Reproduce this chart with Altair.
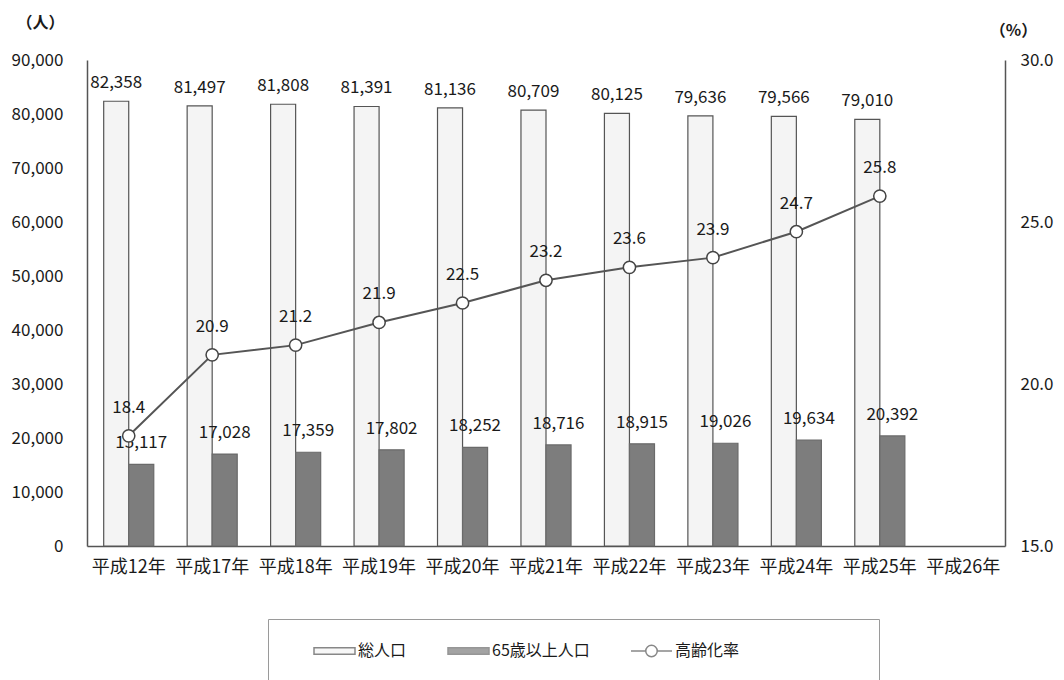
import altair as alt
import pandas as pd

categories = ["平成12年", "平成17年", "平成18年", "平成19年", "平成20年", "平成21年",
              "平成22年", "平成23年", "平成24年", "平成25年", "平成26年"]
data_years = categories[:10]
total_pop = [82358, 81497, 81808, 81391, 81136, 80709, 80125, 79636, 79566, 79010]
elderly_pop = [15117, 17028, 17359, 17802, 18252, 18716, 18915, 19026, 19634, 20392]
aging_rate = [18.4, 20.9, 21.2, 21.9, 22.5, 23.2, 23.6, 23.9, 24.7, 25.8]
series_names = ["総人口", "65歳以上人口", "高齢化率"]

FONT = "Noto Sans CJK JP"
TXT = "#1a1a1a"

bar_rows = []
for y, t, e in zip(data_years, total_pop, elderly_pop):
    bar_rows.append({"year": y, "series": series_names[0], "value": t})
    bar_rows.append({"year": y, "series": series_names[1], "value": e})
bars_df = pd.DataFrame(bar_rows)
line_df = pd.DataFrame({"year": data_years, "rate": aging_rate})
legend_df = pd.DataFrame({"series": series_names})

rect_path = "M-1,-0.16H1V0.16H-1Z"
line_circle_path = ("M-1,0H-0.28M0.28,0H1M0.28,0A0.28,0.28,0,1,1,-0.28,0"
                    "A0.28,0.28,0,1,1,0.28,0Z")

fill_scale = alt.Scale(domain=series_names, range=["#f4f4f4", "#7d7d7d", "#ffffff"])
stroke_scale = alt.Scale(domain=series_names, range=["#555555", "#6a6a6a", "#555555"])
shape_scale = alt.Scale(domain=series_names, range=[rect_path, rect_path, line_circle_path])

legend = alt.Legend(
    title="\u3000", titleOrient="right", titlePadding=130, titleFontSize=16,
    orient="none", legendX=181, legendY=559, direction="horizontal",
    columns=3, columnPadding=5, padding=10, symbolOffset=35, clipHeight=44,
    strokeColor="#9a9a9a", fillColor="#ffffff",
    labelFont=FONT, labelFontSize=16, labelColor=TXT, labelOffset=2,
    symbolSize=1681, symbolStrokeWidth=1.5,
)

x_enc = alt.X("year:N", scale=alt.Scale(domain=categories, paddingInner=0.4),
              axis=alt.Axis(title=None, labelAngle=0, labelFont=FONT, labelFontSize=18,
                            labelColor=TXT, labelPadding=12, ticks=False,
                            domainColor="#555555", domainWidth=1.5))
xoff = alt.XOffset("series:N", scale=alt.Scale(domain=series_names[:2], paddingInner=0))
y_left = alt.Y("value:Q", scale=alt.Scale(domain=[0, 90000], nice=False),
               axis=alt.Axis(title="（人）", titleAngle=0, titleX=-47, titleY=-30,
                             titleAlign="center", titleFont=FONT, titleFontSize=16,
                             titleFontWeight="bold", titleColor=TXT,
                             values=list(range(0, 90001, 10000)), format=",d",
                             labelFont=FONT, labelFontSize=17, labelColor=TXT,
                             labelPadding=24, ticks=False, grid=False,
                             domainColor="#555555", domainWidth=1.5))

bars = alt.Chart(bars_df).mark_bar(strokeWidth=1.2).encode(
    x=x_enc, xOffset=xoff, y=y_left,
    fill=alt.Fill("series:N", scale=fill_scale, legend=legend),
    stroke=alt.Stroke("series:N", scale=stroke_scale, legend=legend),
)
total_text = alt.Chart(bars_df).transform_filter(
    alt.datum.series == series_names[0]
).mark_text(
    baseline="bottom", dy=-9, font=FONT, fontSize=17, color=TXT
).encode(
    x=x_enc, xOffset=xoff, y=y_left, text=alt.Text("value:Q", format=",d")
)
elderly_text = alt.Chart(bars_df).transform_filter(
    alt.datum.series == series_names[1]
).mark_text(
    baseline="bottom", dy=-12, font=FONT, fontSize=17, color=TXT
).encode(
    x=x_enc, xOffset=xoff, y=y_left, text=alt.Text("value:Q", format=",d")
)
left_layer = alt.layer(bars, total_text, elderly_text)

y_right = alt.Y("rate:Q", scale=alt.Scale(domain=[15, 30], nice=False),
                axis=alt.Axis(title="（%）", orient="right", titleAngle=0, titleX=8,
                              titleY=-22, titleAlign="center", titleFont=FONT,
                              titleFontSize=16, titleFontWeight="bold",
                              titleColor=TXT, values=[15, 20, 25, 30],
                              format=".1f", labelFont=FONT, labelFontSize=17,
                              labelColor=TXT, labelPadding=15, ticks=False,
                              grid=False, domainColor="#555555", domainWidth=1.5))
line = alt.Chart(line_df).mark_line(color="#555555", strokeWidth=2).encode(
    x=x_enc, y=y_right)
points = alt.Chart(line_df).mark_point(
    shape="circle", size=150, filled=True, fill="#ffffff", stroke="#444444",
    strokeWidth=1.5, opacity=1
).encode(x=x_enc, y=y_right)
line_text = alt.Chart(line_df).mark_text(
    baseline="bottom", dy=-19, font=FONT, fontSize=17, color=TXT
).encode(x=x_enc, y=y_right, text=alt.Text("rate:Q", format=".1f"))
right_layer = alt.layer(line, points, line_text)

legend_layer = alt.Chart(legend_df).mark_point(filled=True, strokeWidth=1.5).encode(
    fill=alt.Fill("series:N", scale=fill_scale, legend=legend),
    stroke=alt.Stroke("series:N", scale=stroke_scale, legend=legend),
    shape=alt.Shape("series:N", scale=shape_scale, legend=legend),
).transform_filter("datum.series == 'none'")

chart = alt.layer(left_layer, right_layer, legend_layer).resolve_scale(
    y="independent"
).properties(
    width=918, height=486,
    autosize=alt.AutoSizeParams(type="none"),
    padding={"left": 87, "top": 60, "right": 59, "bottom": 134},
    background="#ffffff",
).configure_view(stroke=None)

chart.save("out.html", embed_options={"renderer": "svg", "actions": False})
